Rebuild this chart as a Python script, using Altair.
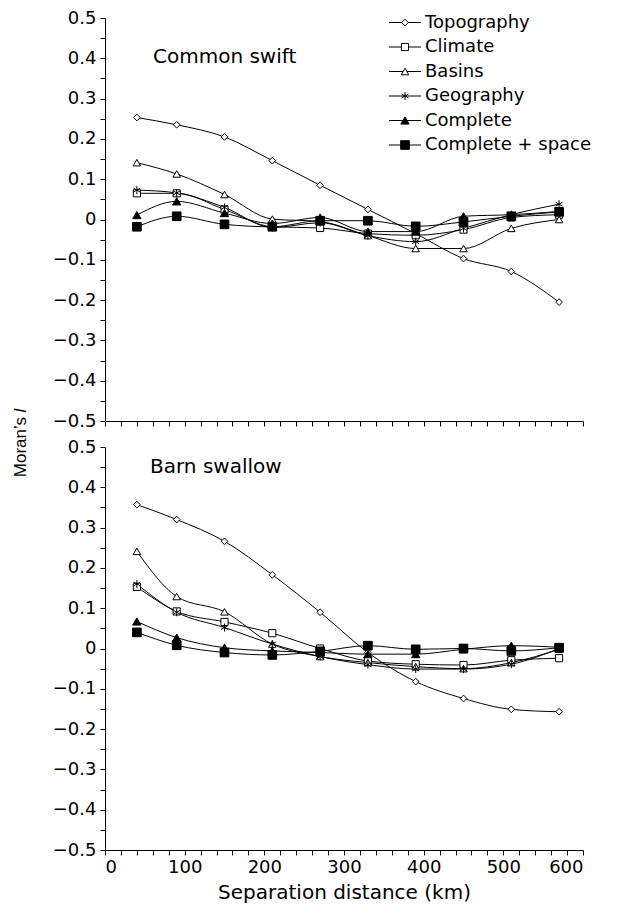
import altair as alt
import pandas as pd

# ---- data ----
distance_km = [40, 90, 150, 210, 270, 330, 390, 450, 510, 570]
series_names = ["Topography", "Climate", "Basins", "Geography", "Complete", "Complete + space"]

swift = {
    "Topography":       [0.253, 0.235, 0.205, 0.146, 0.085, 0.025, -0.035, -0.097, -0.129, -0.205],
    "Climate":          [0.065, 0.065, 0.025, -0.018, -0.021, -0.035, -0.039, -0.025, 0.005, 0.012],
    "Basins":           [0.141, 0.113, 0.062, 0.001, -0.005, -0.040, -0.072, -0.072, -0.022, 0.000],
    "Geography":        [0.073, 0.066, 0.030, -0.020, -0.008, -0.040, -0.055, -0.022, 0.012, 0.038],
    "Complete":         [0.011, 0.045, 0.016, -0.010, 0.005, -0.030, -0.030, 0.008, 0.012, 0.020],
    "Complete + space": [-0.018, 0.008, -0.012, -0.018, -0.003, -0.003, -0.017, -0.006, 0.008, 0.019],
}
swallow = {
    "Topography":       [0.357, 0.320, 0.266, 0.183, 0.090, -0.010, -0.082, -0.124, -0.151, -0.157],
    "Climate":          [0.153, 0.092, 0.066, 0.038, 0.000, -0.031, -0.039, -0.041, -0.029, -0.024],
    "Basins":           [0.241, 0.129, 0.091, 0.011, -0.020, -0.035, -0.045, -0.050, -0.035, -0.002],
    "Geography":        [0.160, 0.090, 0.052, 0.011, -0.020, -0.040, -0.051, -0.051, -0.039, 0.000],
    "Complete":         [0.067, 0.027, 0.002, -0.006, -0.010, -0.014, -0.014, -0.002, 0.007, 0.003],
    "Complete + space": [0.040, 0.008, -0.010, -0.016, -0.007, 0.007, -0.002, 0.000, -0.006, 0.002],
}

x_tick_values = list(range(0, 601, 20))
y_tick_values = [round(-0.5 + 0.05 * i, 2) for i in range(21)]

# ---- styling ----
FONT = "DejaVu Sans"
ASTERISK = "M0,-1V1M-0.87,-0.5L0.87,0.5M-0.87,0.5L0.87,-0.5"
shape_range = ["diamond", "square", "triangle-up", ASTERISK, "triangle-up", "square"]
fill_range = ["white", "white", "white", "white", "black", "black"]
size_range = [45, 75, 65, 75, 65, 130]
W, H = 478, 403


def to_long(d):
    rows = []
    for s in series_names:
        for x, v in zip(distance_km, d[s]):
            rows.append({"km": x, "I": v, "series": s})
    return pd.DataFrame(rows)


shape_enc = alt.Shape("series:N", scale=alt.Scale(domain=series_names, range=shape_range), legend=None)
fill_enc = alt.Fill("series:N", scale=alt.Scale(domain=series_names, range=fill_range), legend=None)
size_enc = alt.Size("series:N", scale=alt.Scale(domain=series_names, range=size_range), legend=None)


def panel(d, label, label_x, label_y, show_x_labels, with_legend, with_ytitle):
    df = to_long(d)
    x_axis = alt.Axis(
        values=x_tick_values,
        labels=show_x_labels,
        labelExpr="datum.value % 100 == 0 ? datum.label : ''",
        title="Separation distance (km)" if show_x_labels else None,
        grid=False, tickSize=5, tickColor="black", domainColor="black",
        labelFont=FONT, labelFontSize=18, labelColor="black", labelPadding=3,
        titleFont=FONT, titleFontSize=20, titleFontWeight="normal", titleColor="black", titlePadding=6,
    )
    y_axis = alt.Axis(
        values=y_tick_values,
        labelExpr="abs(datum.value*10 - round(datum.value*10)) > 0.01 ? '' : ((datum.value < -0.001 ? '\u2212' : '') + format(abs(datum.value), '.1~f'))",
        title=None, grid=False, tickSize=5, tickColor="black", domainColor="black",
        labelFont=FONT, labelFontSize=18, labelColor="black", labelPadding=4,
    )
    x = alt.X("km:Q", scale=alt.Scale(domain=[0, 600], nice=False), axis=x_axis)
    y = alt.Y("I:Q", scale=alt.Scale(domain=[-0.5, 0.5], nice=False), axis=y_axis)

    lines = alt.Chart(df).mark_line(color="black", strokeWidth=1, interpolate="monotone").encode(
        x=x, y=y, detail="series:N"
    )
    pts = alt.Chart(df).mark_point(stroke="black", strokeWidth=1, opacity=1).encode(
        x=x, y=y, shape=shape_enc, fill=fill_enc, size=size_enc
    )
    txt = alt.Chart(pd.DataFrame({"t": [label]})).mark_text(
        align="left", baseline="middle", font=FONT, fontSize=20, color="black"
    ).encode(text="t:N", x=alt.value(label_x), y=alt.value(label_y))

    layers = [lines, pts, txt]

    if with_ytitle:
        t1 = alt.Chart(pd.DataFrame({"t": ["Moran\u2019s"]})).mark_text(
            align="right", baseline="middle", angle=270, font="Liberation Sans", fontSize=17, color="black"
        ).encode(text="t:N", x=alt.value(-84), y=alt.value(H - 4))
        t2 = alt.Chart(pd.DataFrame({"t": ["I"]})).mark_text(
            align="left", baseline="middle", angle=270, font="Liberation Sans", fontSize=17,
            fontStyle="italic", color="black"
        ).encode(text="t:N", x=alt.value(-84), y=alt.value(H - 8))
        layers += [t1, t2]

    main = alt.layer(*layers)

    if with_legend:
        leg = pd.DataFrame({"series": series_names, "idx": list(range(len(series_names)))})
        ly = alt.Y("idx:Q", scale=alt.Scale(domain=[0, 5], range=[4.5, 127]), axis=None)
        leg_line = alt.Chart(leg).mark_rule(color="black", strokeWidth=1).encode(
            x=alt.value(284), x2=alt.value(316), y=ly
        )
        leg_pt = alt.Chart(leg).mark_point(stroke="black", strokeWidth=1, opacity=1).encode(
            x=alt.value(300), y=ly, shape=shape_enc, fill=fill_enc, size=size_enc
        )
        leg_txt = alt.Chart(leg).mark_text(
            align="left", baseline="middle", font=FONT, fontSize=18, color="black"
        ).encode(x=alt.value(320), y=ly, text="series:N")
        legend = alt.layer(leg_line, leg_pt, leg_txt)
        main = alt.layer(main, legend).resolve_scale(y="independent")

    return main.properties(width=W, height=H)


top = panel(swift, "Common swift", 48, 39, False, True, True)
bottom = panel(swallow, "Barn swallow", 45, 20, True, False, False)

chart = alt.vconcat(top, bottom, spacing=26, bounds="flush").properties(
    padding={"left": 4, "top": 1, "right": 5, "bottom": 5}
).configure_view(stroke=None).configure_axis(domainWidth=1, tickWidth=1)

chart.save("out.html", embed_options={"renderer": "svg", "actions": False})
